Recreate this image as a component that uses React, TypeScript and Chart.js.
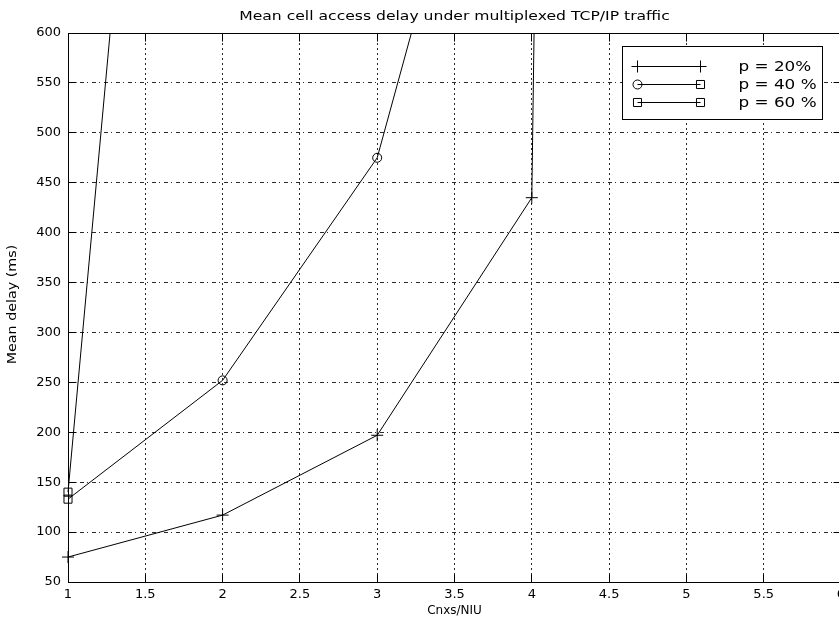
import React, { useEffect, useRef } from "react";
import { Chart, registerables } from "chart.js";

Chart.register(...registerables);

// Mean cell access delay (ms) against connections per NIU, one series per load level
const p20X = [1, 2, 3, 4, 4.05];
const p20Y = [75, 117, 197, 435, 1000];
const p40X = [1, 2, 3, 4];
const p40Y = [133, 252, 475, 1040];
const p60X = [1, 2];
const p60Y = [140, 1830];

const seriesLabels = ["p = 20%", "p = 40 %", "p = 60 %"];
const chartTitle = "Mean cell access delay under multiplexed TCP/IP traffic";
const xTitle = "Cnxs/NIU";
const yTitle = "Mean delay (ms)";

const xTickLabels = ["1", "1.5", "2", "2.5", "3", "3.5", "4", "4.5", "5", "5.5", "6"];
const yTickLabels = ["50", "100", "150", "200", "250", "300", "350", "400", "450", "500", "550", "600"];

const FONT = "'DejaVu Sans', 'Liberation Sans', sans-serif";
const INK = "#000";
const GRID = "#2a2a2a";

const pairs = (xs: number[], ys: number[]) => xs.map((x, i) => ({ x, y: ys[i] }));

const align = (p: number) => Math.round(p - 0.5) + 0.5;

function drawMarker(ctx: CanvasRenderingContext2D, style: string, x: number, y: number, r: number) {
  ctx.beginPath();
  if (style === "cross") {
    ctx.moveTo(x - r, y);
    ctx.lineTo(x + r, y);
    ctx.moveTo(x, y - r);
    ctx.lineTo(x, y + r);
  } else if (style === "circle") {
    ctx.arc(x, y, r, 0, Math.PI * 2);
  } else {
    const h = r * Math.SQRT1_2;
    ctx.rect(x - h, y - h, 2 * h, 2 * h);
  }
  ctx.stroke();
}

// Box around the axes with short inward ticks on every side
const framePlugin = {
  id: "frame",
  afterDatasetsDraw(chart: any) {
    const { ctx, chartArea: a, scales } = chart;
    const L = align(a.left), R = align(a.right), T = align(a.top), B = align(a.bottom);
    const tick = 8;
    ctx.save();
    ctx.setLineDash([]);
    ctx.strokeStyle = INK;
    ctx.lineWidth = 1;
    ctx.strokeRect(L, T, R - L, B - T);
    ctx.beginPath();
    scales.x.ticks.forEach((t: any) => {
      const px = align(scales.x.getPixelForValue(t.value));
      ctx.moveTo(px, B);
      ctx.lineTo(px, B - tick);
      ctx.moveTo(px, T);
      ctx.lineTo(px, T + tick);
    });
    scales.y.ticks.forEach((t: any) => {
      const py = align(scales.y.getPixelForValue(t.value));
      ctx.moveTo(L, py);
      ctx.lineTo(L + tick, py);
      ctx.moveTo(R, py);
      ctx.lineTo(R - tick, py);
    });
    ctx.stroke();
    ctx.restore();
  },
};

// Title above the axes and the rotated y-axis caption, both set a little wide
const textPlugin = {
  id: "wideText",
  afterDraw(chart: any) {
    const { ctx, chartArea: a } = chart;
    ctx.save();
    ctx.font = `13px ${FONT}`;
    ctx.fillStyle = INK;
    ctx.textAlign = "center";
    ctx.textBaseline = "alphabetic";
    ctx.translate((a.left + a.right) / 2, 20);
    ctx.scale(1.2, 1);
    ctx.fillText(chartTitle, 0, 0);
    ctx.restore();

    ctx.save();
    ctx.font = `13px ${FONT}`;
    ctx.fillStyle = INK;
    ctx.textAlign = "center";
    ctx.textBaseline = "middle";
    ctx.translate(13, (a.top + a.bottom) / 2 - 3);
    ctx.rotate(-Math.PI / 2);
    ctx.scale(1.1, 1);
    ctx.fillText(yTitle, 0, 0);
    ctx.restore();
  },
};

// Boxed legend in the upper right, markers at both ends of each sample line
const legendMarkers = [
  ["cross", "cross"],
  ["circle", "rect"],
  ["rect", "rect"],
];
const legendRadius: Record<string, number> = { cross: 6, circle: 4.5, rect: 5.7 };

const legendPlugin = {
  id: "boxLegend",
  afterDraw(chart: any) {
    const { ctx, chartArea: a } = chart;
    const left = align(a.right - 219);
    const top = align(a.top + 13);
    const w = 200, h = 73;
    ctx.save();
    ctx.setLineDash([]);
    ctx.fillStyle = "#fff";
    ctx.fillRect(left, top, w, h);
    ctx.strokeStyle = INK;
    ctx.lineWidth = 1;
    ctx.strokeRect(left, top, w, h);
    chart.data.datasets.forEach((ds: any, i: number) => {
      const y = Math.round(top + 19 + i * 18) + 0.5;
      const x1 = left + 15, x2 = left + 78;
      ctx.beginPath();
      ctx.moveTo(x1, y);
      ctx.lineTo(x2, y);
      ctx.stroke();
      const [m1, m2] = legendMarkers[i];
      drawMarker(ctx, m1, x1, y, legendRadius[m1]);
      drawMarker(ctx, m2, x2, y, legendRadius[m2]);
      ctx.save();
      ctx.font = `14px ${FONT}`;
      ctx.fillStyle = INK;
      ctx.textAlign = "left";
      ctx.textBaseline = "middle";
      ctx.translate(left + 116, y + 1);
      ctx.scale(1.2, 1);
      ctx.fillText(ds.label, 0, 0);
      ctx.restore();
    });
    ctx.restore();
  },
};

export default function App() {
  const canvasRef = useRef<HTMLCanvasElement | null>(null);

  useEffect(() => {
    const canvas = canvasRef.current;
    if (!canvas) return;
    // markers sitting on the left axis stay whole; everything else is cut at the axes
    const clip = { left: 8, top: 0, right: 0, bottom: 0 };
    const chart = new Chart(canvas, {
      type: "line",
      data: {
        datasets: [
          {
            label: seriesLabels[0],
            data: pairs(p20X, p20Y),
            pointStyle: "cross",
            pointRadius: 6,
            clip,
          },
          {
            label: seriesLabels[1],
            data: pairs(p40X, p40Y),
            pointStyle: ["rect", "circle", "circle", "circle"],
            pointRadius: [5.7, 4.5, 4.5, 4.5],
            clip,
          },
          {
            label: seriesLabels[2],
            data: pairs(p60X, p60Y),
            pointStyle: "rect",
            pointRadius: 5.7,
            clip,
          },
        ] as any,
      },
      options: {
        responsive: false,
        animation: false,
        devicePixelRatio: 1,
        events: [],
        layout: { padding: { left: 0, top: 33, right: 29, bottom: 0 } },
        elements: {
          line: { borderColor: INK, borderWidth: 1, tension: 0, fill: false },
          point: { borderColor: INK, backgroundColor: "rgba(0,0,0,0)", borderWidth: 1 },
        },
        plugins: {
          legend: { display: false },
          title: { display: false },
          tooltip: { enabled: false },
        },
        scales: {
          x: {
            type: "linear",
            min: 1,
            max: 6,
            ticks: {
              stepSize: 0.5,
              autoSkip: false,
              maxRotation: 0,
              color: INK,
              padding: 5,
              font: { family: FONT, size: 13 },
              callback: (_v: any, i: number) => xTickLabels[i],
            },
            grid: { color: GRID, lineWidth: 1, drawTicks: false },
            border: { display: false, dash: [2, 3] },
            title: {
              display: true,
              text: xTitle,
              color: INK,
              font: { family: FONT, size: 12 },
              padding: { top: 0, bottom: 4 },
            },
            afterFit: (s: any) => {
              s.height = 40;
            },
          },
          y: {
            type: "linear",
            min: 50,
            max: 600,
            ticks: {
              stepSize: 50,
              autoSkip: false,
              color: INK,
              padding: 7,
              font: { family: FONT, size: 13 },
              callback: (_v: any, i: number) => yTickLabels[i],
            },
            grid: { color: GRID, lineWidth: 1, drawTicks: false },
            border: { display: false, dash: [4, 3, 1, 4] },
            title: { display: false },
            afterFit: (s: any) => {
              s.width = 68;
            },
          },
        },
      } as any,
      plugins: [framePlugin, textPlugin, legendPlugin],
    });
    return () => chart.destroy();
  }, []);

  return (
    <div
      style={{
        position: "fixed",
        left: 0,
        top: 0,
        width: 839,
        height: 622,
        overflow: "hidden",
        background: "#fff",
      }}
    >
      <canvas ref={canvasRef} width={870} height={622} />
    </div>
  );
}
